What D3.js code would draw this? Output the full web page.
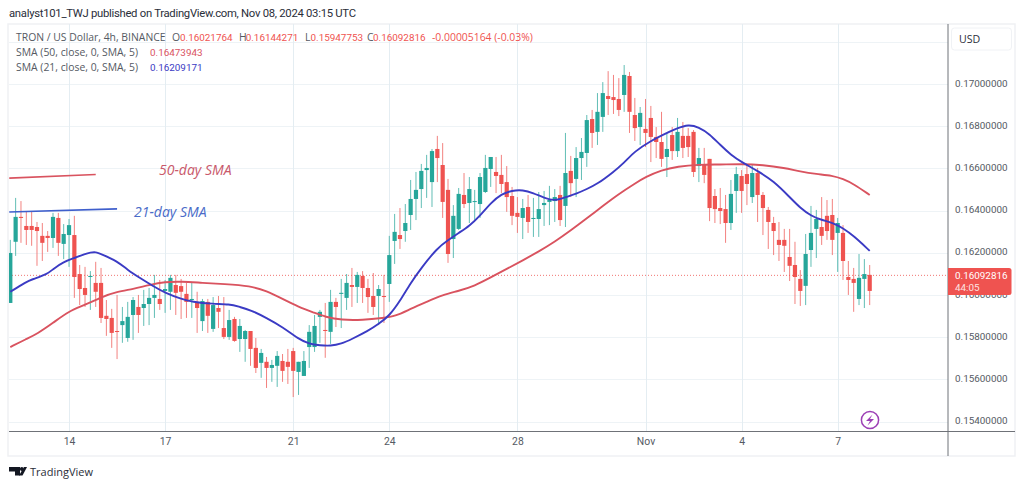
<!DOCTYPE html>
<html><head><meta charset="utf-8">
<script src="https://cdn.jsdelivr.net/npm/d3@7/dist/d3.min.js"></script>
<style>html,body{margin:0;padding:0;background:#fff;overflow:hidden}svg{display:block}text{font-family:"Open Sans","Noto Sans",sans-serif}.rb{font-family:Roboto,sans-serif}</style>
</head><body><svg id="c" width="1024" height="487"></svg>
<script>
const opens=[0.15962,0.16252,0.16370,0.16327,0.16327,0.16322,0.16280,0.16280,0.16270,0.16365,
0.16242,0.16284,0.16284,0.16099,0.16033,0.16085,0.16057,0.16057,0.15901,0.15891,
0.15829,0.15857,0.15796,0.15905,0.15943,0.15938,0.15957,0.15986,0.15981,0.16019,
0.16015,0.16047,0.16042,0.16005,0.15976,0.15967,0.15876,0.15967,0.15839,0.15938,
0.15843,0.15801,0.15886,0.15791,0.15791,0.15829,0.15749,0.15678,0.15683,0.15654,
0.15664,0.15687,0.15683,0.15734,0.15635,0.15616,0.15753,0.15753,0.15896,0.15834,
0.15825,0.15967,0.16005,0.15986,0.16047,0.16038,0.16090,0.16033,0.15995,0.15995,
0.15995,0.16052,0.16256,0.16284,0.16303,0.16379,0.16455,0.16502,0.16592,0.16535,
0.16692,0.16616,0.16498,0.16265,0.16313,0.16474,0.16436,0.16441,0.16431,0.16488,
0.16597,0.16583,0.16569,0.16535,0.16469,0.16389,0.16365,0.16417,0.16360,0.16360,
0.16426,0.16441,0.16445,0.16474,0.16422,0.16588,0.16550,0.16649,0.16673,0.16834,
0.16773,0.16844,0.16943,0.16938,0.16929,0.16948,0.17038,0.16853,0.16796,0.16787,
0.16839,0.16749,0.16725,0.16654,0.16758,0.16682,0.16754,0.16754,0.16773,0.16611,
0.16616,0.16645,0.16469,0.16412,0.16407,0.16341,0.16493,0.16564,0.16573,0.16464,
0.16578,0.16474,0.16403,0.16341,0.16261,0.16261,0.16180,0.16142,0.16076,0.16043,
0.16213,0.16313,0.16322,0.16375,0.16379,0.16294,0.16294,0.16085,0.16076,0.15981,0.16076,0.16095];
const highs=[0.16261,0.16460,0.16445,0.16394,0.16394,0.16346,0.16341,0.16303,0.16389,0.16389,
0.16336,0.16360,0.16375,0.16142,0.16133,0.16113,0.16157,0.16128,0.15976,0.15934,
0.16000,0.15943,0.15967,0.15990,0.16000,0.16024,0.16033,0.16095,0.16071,0.16071,
0.16095,0.16095,0.16076,0.16057,0.16057,0.16015,0.15981,0.15981,0.15990,0.15995,
0.15990,0.15929,0.15896,0.15886,0.15834,0.15829,0.15796,0.15744,0.15706,0.15692,
0.15734,0.15720,0.15744,0.15749,0.15683,0.15734,0.15857,0.15905,0.15929,0.15962,
0.16024,0.15986,0.16076,0.16099,0.16128,0.16109,0.16113,0.16076,0.16104,0.16047,
0.16095,0.16280,0.16384,0.16412,0.16431,0.16545,0.16583,0.16621,0.16664,0.16692,
0.16754,0.16720,0.16550,0.16426,0.16507,0.16578,0.16559,0.16498,0.16578,0.16664,
0.16654,0.16654,0.16664,0.16611,0.16512,0.16464,0.16455,0.16474,0.16460,0.16488,
0.16493,0.16517,0.16502,0.16517,0.16768,0.16659,0.16701,0.16744,0.16853,0.16877,
0.16957,0.17009,0.17061,0.17043,0.17028,0.17090,0.17057,0.16934,0.16891,0.16929,
0.16896,0.16796,0.16868,0.16768,0.16796,0.16839,0.16820,0.16791,0.16782,0.16697,
0.16697,0.16645,0.16502,0.16507,0.16474,0.16545,0.16607,0.16592,0.16621,0.16616,
0.16602,0.16488,0.16417,0.16370,0.16346,0.16313,0.16313,0.16252,0.16118,0.16289,
0.16422,0.16403,0.16464,0.16450,0.16455,0.16365,0.16331,0.16161,0.16128,0.16194,0.16170,0.16142];
const lows=[0.15962,0.16185,0.16247,0.16237,0.16233,0.16138,0.16161,0.16204,0.16223,0.16185,
0.16170,0.16133,0.15986,0.15952,0.15943,0.15929,0.15943,0.15867,0.15806,0.15749,
0.15696,0.15773,0.15778,0.15787,0.15820,0.15853,0.15857,0.15891,0.15929,0.15915,
0.15929,0.15905,0.15886,0.15891,0.15891,0.15820,0.15829,0.15820,0.15825,0.15843,
0.15791,0.15787,0.15778,0.15730,0.15683,0.15664,0.15630,0.15607,0.15559,0.15588,
0.15564,0.15588,0.15578,0.15516,0.15526,0.15616,0.15654,0.15730,0.15773,0.15702,
0.15768,0.15848,0.15843,0.15929,0.15943,0.15962,0.15962,0.15915,0.15905,0.15857,
0.15867,0.15967,0.16147,0.16218,0.16252,0.16308,0.16355,0.16412,0.16460,0.16417,
0.16535,0.16365,0.16152,0.16175,0.16308,0.16412,0.16341,0.16355,0.16365,0.16483,
0.16512,0.16483,0.16483,0.16394,0.16331,0.16294,0.16265,0.16294,0.16275,0.16275,
0.16327,0.16331,0.16346,0.16327,0.16322,0.16464,0.16464,0.16545,0.16607,0.16697,
0.16711,0.16773,0.16853,0.16858,0.16848,0.16868,0.16768,0.16730,0.16711,0.16701,
0.16630,0.16649,0.16607,0.16559,0.16640,0.16654,0.16649,0.16654,0.16559,0.16535,
0.16530,0.16350,0.16341,0.16336,0.16247,0.16308,0.16389,0.16389,0.16426,0.16436,
0.16346,0.16284,0.16218,0.16189,0.16161,0.16109,0.16066,0.15957,0.15948,0.15952,
0.16133,0.16175,0.16237,0.16261,0.16189,0.16109,0.16071,0.16000,0.15920,0.15952,0.15938,0.15952];
const closes=[0.16199,0.16370,0.16365,0.16308,0.16308,0.16303,0.16247,0.16270,0.16370,0.16247,
0.16289,0.16331,0.16085,0.16028,0.16000,0.16090,0.16015,0.15891,0.15886,0.15820,
0.15825,0.15876,0.15896,0.15976,0.15905,0.15957,0.15986,0.16000,0.15957,0.16028,
0.16081,0.16010,0.16015,0.15967,0.15981,0.15938,0.15971,0.15901,0.15952,0.15920,
0.15801,0.15881,0.15782,0.15853,0.15829,0.15744,0.15654,0.15725,0.15654,0.15668,
0.15711,0.15640,0.15659,0.15640,0.15683,0.15687,0.15825,0.15853,0.15920,0.15829,
0.15967,0.15943,0.16010,0.16057,0.16038,0.16095,0.16033,0.15990,0.15943,0.16028,
0.15990,0.16189,0.16299,0.16265,0.16341,0.16455,0.16498,0.16588,0.16602,0.16682,
0.16649,0.16441,0.16194,0.16375,0.16479,0.16431,0.16502,0.16445,0.16559,0.16602,
0.16654,0.16564,0.16526,0.16464,0.16375,0.16370,0.16412,0.16346,0.16365,0.16407,
0.16436,0.16450,0.16464,0.16355,0.16578,0.16530,0.16649,0.16678,0.16829,0.16768,
0.16868,0.16957,0.16929,0.16924,0.16877,0.17043,0.16868,0.16791,0.16863,0.16768,
0.16749,0.16725,0.16645,0.16692,0.16682,0.16773,0.16697,0.16701,0.16583,0.16649,
0.16569,0.16412,0.16407,0.16398,0.16341,0.16479,0.16573,0.16493,0.16526,0.16578,
0.16474,0.16412,0.16346,0.16303,0.16237,0.16233,0.16138,0.16085,0.16019,0.16194,
0.16294,0.16360,0.16280,0.16303,0.16261,0.16341,0.16161,0.16071,0.16057,0.16081,0.16099,0.16019];

const sma21Bars=[0,3,4,7,8,10,12,14,15,16,17,20,22,24,27,29,32,34,38,41,43,45,48,51,54,56,58,60,62,64,67,69,71,73,75,77,80,82,84,86,88,90,92,94,96,98,100,102,104,106,108,110,113,115,117,120,122,125,127,129,131,133,135,137,140,143,146,148,150,152,154,156,158,161];
const sma21=[0.16015,0.16062,0.16073,0.16099,0.16123,0.16157,0.16175,0.16194,0.16201,0.16204,0.16194,0.16161,0.16118,0.16085,0.16038,0.16010,0.15981,0.15967,0.15957,0.15957,0.15943,0.15929,0.15891,0.15848,0.15791,0.15768,0.15761,0.15758,0.15768,0.15791,0.15829,0.15862,0.15901,0.15971,0.16057,0.16128,0.16223,0.16259,0.16294,0.16327,0.16375,0.16436,0.16479,0.16495,0.16498,0.16483,0.16460,0.16445,0.16464,0.16479,0.16502,0.16526,0.16583,0.16626,0.16682,0.16730,0.16756,0.16791,0.16808,0.16796,0.16763,0.16711,0.16664,0.16630,0.16588,0.16540,0.16464,0.16412,0.16375,0.16355,0.16343,0.16317,0.16280,0.16209];
const sma50Bars=[0,3,5,8,11,14,17,20,23,26,29,32,36,40,45,48,51,54,57,59,62,66,70,72,75,78,81,84,87,90,93,96,99,102,105,108,111,114,117,119,122,125,129,133,137,141,145,148,151,154,156,158,161];
const sma50=[0.15753,0.15791,0.15815,0.15867,0.15924,0.15952,0.15990,0.16015,0.16028,0.16047,0.16062,0.16064,0.16057,0.16052,0.16043,0.16019,0.15981,0.15943,0.15915,0.15896,0.15881,0.15881,0.15891,0.15898,0.15934,0.15967,0.16000,0.16019,0.16043,0.16083,0.16123,0.16164,0.16206,0.16252,0.16306,0.16363,0.16422,0.16479,0.16528,0.16559,0.16592,0.16609,0.16618,0.16618,0.16621,0.16616,0.16602,0.16585,0.16573,0.16566,0.16550,0.16526,0.16474];

const dayTickBars=[11,29,53,71,95,119,137,155];
const dayTickLabels=["14","17","21","24","28","Nov","4","7"];
const priceTicks=[0.154,0.156,0.158,0.160,0.162,0.164,0.166,0.168,0.170];
const upperGridPrice=0.172;
const lastPrice=0.16092816;
const countdown="44:05";
const annotationBars=[0,16,20];
const annotation50=[0.16554,0.16571];
const annotation21=[0.16393,0.16408];
const annotationLabels=["50-day SMA","21-day SMA"];
const titleText="analyst101_TWJ published on TradingView.com, Nov 08, 2024 03:15 UTC";
const symbolText="TRON / US Dollar, 4h, BINANCE";
const ohlcLabels=["O","H","L","C"];
const ohlcValues=["0.16021764","0.16144271","0.15947753","0.16092816"];
const changeText="-0.00005164 (-0.03%)";
const smaLegend=[["SMA (50, close, 0, SMA, 5)","0.16473943"],["SMA (21, close, 0, SMA, 5)","0.16209171"]];

const UP="#26a69a",DOWN="#ef5350",BLUE="#3b3bc4",RED="#d9535f",GRID="#eef3f6",VGRID="#e4edf2",FRAME="#eff1f4",AXIS="#6f7278",TXT="#555a63";
const svg=d3.select("#c");
const x=d3.scaleLinear().domain([0,161]).range([10.3,869.7]);
const y=d3.scaleLinear().domain([0.154,0.170]).range([421.5,84]);
const L=9,R=948,T=24,B=431.5;

svg.append("rect").attr("x",8).attr("y",24).attr("width",1007).attr("height",432).attr("fill","#fff").attr("stroke",FRAME).attr("stroke-width",1.5);
svg.append("text").attr("class","rb").attr("x",9).attr("y",17).attr("font-size",11.3).attr("fill","#2a2e39").attr("textLength",347).text(titleText);

const defs=svg.append("defs");
defs.append("clipPath").attr("id","pane").append("rect").attr("x",L).attr("y",T).attr("width",R-L).attr("height",B-T);

const g=svg.append("g").attr("clip-path","url(#pane)");
g.selectAll(".hg").data(priceTicks.concat([upperGridPrice])).join("line")
 .attr("x1",L).attr("x2",R).attr("y1",d=>Math.round(y(d))+.5).attr("y2",d=>Math.round(y(d))+.5).attr("stroke",GRID);
g.selectAll(".vg").data(dayTickBars).join("line")
 .attr("y1",T).attr("y2",B).attr("x1",d=>Math.round(x(d))+.5).attr("x2",d=>Math.round(x(d))+.5).attr("stroke",VGRID);

g.append("line").attr("x1",L).attr("x2",R).attr("y1",y(lastPrice)).attr("y2",y(lastPrice))
 .attr("stroke",DOWN).attr("stroke-dasharray","1 2").attr("opacity",.8);

const bars=d3.range(opens.length);
const col=i=>closes[i]>=opens[i]?UP:DOWN;
g.selectAll(".wick").data(bars).join("line")
 .attr("x1",i=>x(i)).attr("x2",i=>x(i)).attr("y1",i=>y(highs[i])).attr("y2",i=>y(lows[i]))
 .attr("stroke",col).attr("stroke-width",1).attr("opacity",.72);
g.selectAll(".body").data(bars).join("rect")
 .attr("x",i=>x(i)-2.1).attr("width",4.2)
 .attr("y",i=>y(Math.max(opens[i],closes[i])))
 .attr("height",i=>Math.max(1,Math.abs(y(opens[i])-y(closes[i]))))
 .attr("fill",col);

const line=d3.line().x(d=>x(d[0])).y(d=>y(d[1])).curve(d3.curveBasis);
g.append("path").attr("d",line(d3.zip(sma50Bars,sma50))).attr("fill","none").attr("stroke",RED).attr("stroke-width",1.9);
g.append("path").attr("d",line(d3.zip(sma21Bars,sma21))).attr("fill","none").attr("stroke",BLUE).attr("stroke-width",1.9);

const seg=d3.line().x(d=>x(d[0])).y(d=>y(d[1]));
g.append("path").attr("d",seg([[annotationBars[0]-.2,annotation50[0]],[annotationBars[1],annotation50[1]]])).attr("stroke",RED).attr("stroke-width",1.6).attr("fill","none");
g.append("path").attr("d",seg([[annotationBars[0]-.2,annotation21[0]],[annotationBars[2],annotation21[1]]])).attr("stroke","#3f5fcc").attr("stroke-width",1.6).attr("fill","none");
svg.append("text").attr("x",159).attr("y",174.5).attr("font-size",14).attr("font-style","italic").attr("fill","#c9596b").text(annotationLabels[0]);
svg.append("text").attr("x",134).attr("y",217).attr("font-size",14).attr("font-style","italic").attr("fill","#4a6bc8").text(annotationLabels[1]);

const lg=svg.append("g").attr("font-size",10.4);
lg.append("text").attr("x",16).attr("y",41).attr("fill",TXT).text(symbolText);
const legendX=[172,239,305,367];
const legendValueX=[180,245.7,310.5,373];
ohlcLabels.forEach((l,k)=>{
  lg.append("text").attr("x",legendX[k]).attr("y",41).attr("fill",TXT).text(l);
  lg.append("text").attr("class","rb").attr("x",legendValueX[k]).attr("y",41).attr("font-size",9.9).attr("fill",DOWN).text(ohlcValues[k]);
});
lg.append("text").attr("x",432).attr("y",41).attr("fill",DOWN).text(changeText);
smaLegend.forEach((r,k)=>{
  lg.append("text").attr("x",16).attr("y",56+k*15).attr("fill",TXT).text(r[0]);
  lg.append("text").attr("class","rb").attr("x",150).attr("y",56+k*15).attr("font-size",9.9).attr("fill",k?BLUE:RED).text(r[1]);
});

const yAxis=d3.axisRight(y).tickValues(priceTicks).tickSize(0).tickPadding(7).tickFormat(d=>d.toFixed(8));
const ya=svg.append("g").attr("transform",`translate(${R},-1)`).call(yAxis);
ya.select(".domain").remove();
ya.selectAll("text").attr("font-size",9.9).attr("fill",TXT).style("font-family","Roboto,sans-serif");
const xAxis=d3.axisBottom(x).tickValues(dayTickBars).tickSize(0).tickPadding(6).tickFormat((d,i)=>dayTickLabels[i]);
const xa=svg.append("g").attr("transform",`translate(0,${B})`).call(xAxis);
xa.select(".domain").remove();
xa.selectAll("text").attr("font-size",10.4).attr("fill",TXT).style("font-family","Roboto,sans-serif");

svg.append("line").attr("x1",R).attr("x2",R).attr("y1",T).attr("y2",456).attr("stroke",AXIS).attr("stroke-width",1);
svg.append("line").attr("x1",L).attr("x2",1015).attr("y1",B).attr("y2",B).attr("stroke",AXIS).attr("stroke-width",1);

svg.append("rect").attr("x",951.5).attr("y",28).attr("width",60).attr("height",22).attr("rx",3).attr("fill","#fff").attr("stroke","#f0f2f5");
svg.append("text").attr("x",959).attr("y",43).attr("font-size",10.6).attr("fill","#2a2e39").text("USD");

svg.append("path").attr("d","M948 268H1009a2.5 2.5 0 0 1 2.5 2.5V292.5a2.5 2.5 0 0 1 -2.5 2.5H948Z").attr("fill",DOWN);
svg.append("text").attr("class","rb").attr("x",955).attr("y",y(lastPrice)+3.5).attr("font-size",9.9).attr("fill","#fff").text(lastPrice.toFixed(8));
svg.append("text").attr("class","rb").attr("x",955).attr("y",y(lastPrice)+16).attr("font-size",9.9).attr("fill","#fde3e2").text(countdown);

svg.append("circle").attr("cx",870).attr("cy",420).attr("r",8.6).attr("fill","#fff").attr("stroke","#9c3fb5").attr("stroke-width",1.5);
svg.append("path").attr("d","M872.5 414.5L866 421H870L867.5 425.5L874 419H870Z").attr("fill","#9c3fb5");

svg.append("path").attr("d","M9 467H20V475.5H15V471.5H9Z").attr("fill","#131722");
svg.append("circle").attr("cx",21.8).attr("cy",469).attr("r",1.9).attr("fill","#131722");
svg.append("path").attr("d","M24 467H27L22.5 475.5H19Z").attr("fill","#131722");
svg.append("text").attr("x",30).attr("y",475.5).attr("font-size",11).attr("fill","#2a2e39").text("TradingView");
</script></body></html>
